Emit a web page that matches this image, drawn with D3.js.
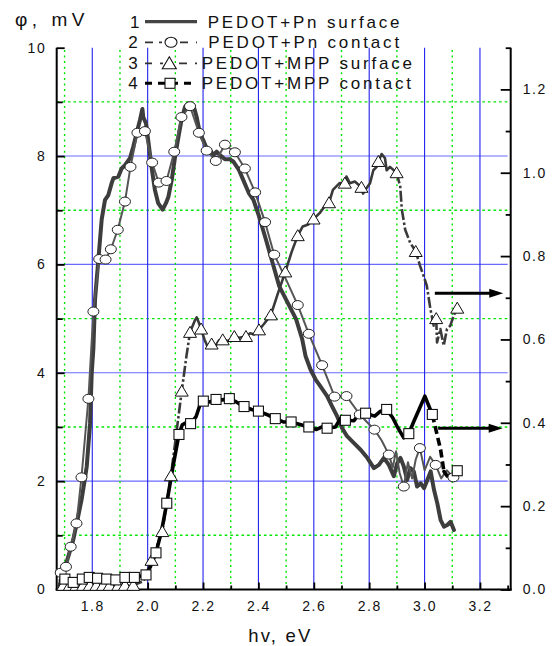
<!DOCTYPE html>
<html>
<head>
<meta charset="utf-8">
<script src="https://cdn.jsdelivr.net/npm/d3@7"></script>
<style>
  html, body { margin: 0; padding: 0; background: #fff; }
  svg { display: block; }
</style>
</head>
<body>
<svg id="chart" width="556" height="646"></svg>
<script>
// ---- data -------------------------------------------------------------
// photon energy (eV), potential (mV) for curve 1 (no markers)
const pnSurface = [
  [1.680,0.05],[1.695,0.30],[1.710,0.55],[1.731,0.91],[1.745,1.25],[1.761,1.65],[1.772,2.00],
  [1.780,2.27],[1.792,3.07],[1.798,4.00],[1.804,4.45],[1.810,5.36],[1.822,6.09],[1.834,6.83],
  [1.846,7.19],[1.858,7.28],[1.870,7.50],[1.876,7.59],[1.894,7.62],[1.906,7.77],[1.918,7.83],
  [1.936,7.96],[1.948,8.17],[1.960,8.42],[1.972,8.66],[1.981,8.87],[1.984,8.72],[1.994,8.60],
  [2.002,8.29],[2.014,7.80],[2.026,7.38],[2.038,7.13],[2.054,7.01],[2.066,7.13],[2.075,7.25],
  [2.087,7.56],[2.099,7.99],[2.111,8.35],[2.123,8.69],[2.135,8.91],[2.147,8.97],[2.165,8.94],
  [2.177,8.72],[2.189,8.42],[2.201,8.29],[2.213,8.14],[2.225,8.11],[2.237,8.02],[2.249,8.08],
  [2.261,8.02],[2.279,7.94],[2.297,7.94],[2.309,7.90],[2.330,7.74],[2.345,7.56],[2.366,7.31],
  [2.382,7.19],[2.402,6.89],[2.427,6.46],[2.451,6.03],[2.475,5.60],[2.505,5.30],[2.536,4.99],
  [2.558,4.62],[2.570,4.31],[2.588,4.06],[2.606,3.88],[2.624,3.75],[2.648,3.57],[2.666,3.38],
  [2.684,3.20],[2.702,2.98],[2.720,2.83],[2.745,2.70],[2.769,2.58],[2.793,2.43],[2.817,2.24],
  [2.835,2.30],[2.853,2.43],[2.871,2.30],[2.889,2.09],[2.901,2.33],[2.913,2.43],[2.925,2.27],
  [2.937,2.02],[2.949,2.24],[2.961,2.18],[2.973,1.90],[2.986,1.96],[2.998,1.87],[3.010,2.02],
  [3.022,2.18],[3.034,1.84],[3.046,1.59],[3.058,1.28],[3.070,1.16],[3.082,1.19],[3.094,1.25],
  [3.106,1.10]
];

// curve 2: circle markers and extra points of its trace (mV)
const pnContactMarks = [
  [1.686,0.31],[1.705,0.42],[1.722,0.79],[1.743,1.22],[1.761,2.07],[1.786,3.52],[1.804,5.13],
  [1.825,6.10],[1.848,6.09],[1.867,6.28],[1.892,6.64],[1.918,7.16],[1.938,7.80],[1.963,8.43],
  [1.990,8.46],[2.016,7.88],[2.040,7.51],[2.068,7.54],[2.096,8.08],[2.122,8.72],[2.153,8.92],
  [2.185,8.43],[2.213,8.10],[2.246,7.91],[2.279,8.21],[2.315,8.07],[2.351,7.77],[2.388,7.33],
  [2.424,6.78],[2.457,6.18],[2.542,5.25],[2.582,4.72],[2.630,4.14],[2.675,3.56],[2.718,3.57],
  [2.766,3.23],[2.819,2.95],[2.871,2.49],[2.925,1.90],[2.983,2.61],[3.040,2.30],[3.104,2.07]
];
const pnContactTrace = [
  [2.500,5.72],[2.790,3.10],[2.845,2.75],[2.885,2.25],[2.897,2.55],[2.910,2.15],[2.940,2.35],
  [2.955,2.05],[2.968,2.40],[3.000,2.20],[3.020,2.45],[3.060,2.05],[3.080,2.20]
];

// curve 3: triangle markers and extra trace points (right axis)
const mppSurfaceMarks = [
  [1.695,0.010],[1.719,0.010],[1.743,0.010],[1.767,0.010],[1.791,0.010],[1.815,0.010],
  [1.839,0.010],[1.863,0.010],[1.894,0.010],[1.918,0.010],[1.948,0.010],
  [2.014,0.070],[2.053,0.139],[2.084,0.273],[2.123,0.476],[2.153,0.617],[2.193,0.625],
  [2.231,0.589],[2.271,0.599],[2.313,0.607],[2.355,0.607],[2.402,0.623],[2.445,0.659],
  [2.497,0.762],[2.542,0.849],[2.599,0.889],[2.655,0.928],[2.712,0.975],[2.772,0.965],
  [2.833,1.027],[2.899,1.000],[2.968,0.811],[3.042,0.650],[3.118,0.675]
];
const mppSurfaceTrace = [
  [1.675,0.008],[1.985,0.020],[1.996,0.039],[2.140,0.560],[2.170,0.645],[2.177,0.653],
  [2.185,0.640],[2.205,0.600],[2.215,0.585],[2.245,0.585],[2.258,0.598],[2.290,0.596],
  [2.330,0.604],[2.370,0.615],[2.385,0.612],[2.420,0.637],[2.470,0.710],[2.520,0.810],
  [2.560,0.871],[2.580,0.876],[2.621,0.903],[2.640,0.920],[2.669,0.959],[2.693,0.975],
  [2.718,0.991],[2.730,0.975],[2.748,0.979],[2.778,0.950],[2.790,0.963],[2.803,0.975],
  [2.815,1.006],[2.827,1.014],[2.845,1.045],[2.857,1.035],[2.863,1.006],[2.875,1.014],
  [2.912,0.967],[2.918,0.911],[2.930,0.863],[2.948,0.832],[2.984,0.776],[2.996,0.753],
  [3.008,0.729],[3.021,0.673],[3.033,0.633],[3.045,0.593],[3.057,0.625],[3.069,0.585],
  [3.081,0.625],[3.093,0.633],[3.105,0.657]
];

// curve 4: square markers and extra trace points (right axis)
const mppContactMarks = [
  [1.701,0.025],[1.731,0.017],[1.764,0.025],[1.789,0.029],[1.819,0.027],[1.852,0.025],
  [1.885,0.023],[1.918,0.029],[1.952,0.029],[1.994,0.035],[2.030,0.088],[2.069,0.207],
  [2.113,0.372],[2.155,0.398],[2.201,0.452],[2.247,0.456],[2.295,0.458],[2.348,0.439],
  [2.400,0.428],[2.461,0.410],[2.518,0.402],[2.582,0.390],[2.648,0.387],[2.714,0.406],
  [2.787,0.423],[2.863,0.432],[2.943,0.374],[3.028,0.420],[3.118,0.285]
];
const mppContactTrace = [
  [1.685,0.022],[2.010,0.055],[2.050,0.140],[2.090,0.290],[2.125,0.395],[2.138,0.400],
  [2.175,0.415],[2.190,0.445],[2.225,0.450],[2.270,0.455],[2.320,0.450],[2.375,0.432],
  [2.430,0.420],[2.490,0.402],[2.550,0.396],[2.610,0.384],[2.630,0.390],[2.678,0.390],
  [2.696,0.410],[2.745,0.405],[2.762,0.420],[2.820,0.416],[2.841,0.428],[2.885,0.412],
  [2.901,0.391],[2.925,0.364],[2.961,0.403],[2.980,0.432],[3.001,0.464],[3.058,0.335],
  [3.070,0.283],[3.082,0.272],[3.100,0.276],[3.106,0.268]
];

// arrows pointing curves 3 and 4 to the right-hand scale: [x0, x1, level]
const axisArrows = [[3.037, 3.284, 0.711], [3.049, 3.282, 0.387]];

const legendNumbers = ["1", "2", "3", "4"];
const legendNames = ["PEDOT+Pn surface", "PEDOT+Pn contact", "PEDOT+MPP surface", "PEDOT+MPP contact"];

const xMajor = [1.8, 2.0, 2.2, 2.4, 2.6, 2.8, 3.0, 3.2];
const xMinor = [1.7, 1.9, 2.1, 2.3, 2.5, 2.7, 2.9, 3.1, 3.3];
const yLeftMajor = [0, 2, 4, 6, 8, 10];
const yLeftMinor = [1, 3, 5, 7, 9];
const yRightMajor = [0, 0.2, 0.4, 0.6, 0.8, 1.0, 1.2];
const yRightMinor = [0.1, 0.3, 0.5, 0.7, 0.9, 1.1, 1.3];

const xTitle = "hv, eV";
const yTitle = "φ, mV";

// ---- scales -----------------------------------------------------------
const svg = d3.select("#chart");
const FONT = "Arial, 'Liberation Sans', sans-serif";
const x = d3.scaleLinear().domain([1.6715, 3.311]).range([56.7, 510.7]);
const yL = d3.scaleLinear().domain([0, 10]).range([589.5, 47.7]);
const yR = d3.scaleLinear().domain([0, 1.3]).range([589.5, 47.7]);
const [X0, X1] = x.range();
const [Y0, Y1] = yL.range();

// ---- grid -------------------------------------------------------------
const grid = svg.append("g");
grid.selectAll(".gmy").data(yLeftMinor).join("line")
  .attr("x1", X0).attr("x2", x(3.3)).attr("y1", d => yL(d)).attr("y2", d => yL(d))
  .attr("stroke", "#00e600").attr("stroke-width", 1.4).attr("stroke-dasharray", "2.6,3");
grid.selectAll(".gMy").data([2, 4, 6, 8]).join("line")
  .attr("x1", X0).attr("x2", x(3.3)).attr("y1", d => yL(d)).attr("y2", d => yL(d))
  .attr("stroke", "#6a6aff").attr("stroke-width", 1.1);
grid.selectAll(".gmx").data(xMinor.filter(d => d < 3.25)).join("line")
  .attr("x1", d => x(d)).attr("x2", d => x(d)).attr("y1", Y0).attr("y2", Y1)
  .attr("stroke", "#00e600").attr("stroke-width", 1.4).attr("stroke-dasharray", "2,3.6");
grid.selectAll(".gMx").data(xMajor).join("line")
  .attr("x1", d => x(d)).attr("x2", d => x(d)).attr("y1", Y0).attr("y2", Y1)
  .attr("stroke", "#2222ee").attr("stroke-width", 1.1);

// ---- axes -------------------------------------------------------------
function styleAxis(g) {
  g.select(".domain").remove();
  g.attr("font-family", FONT).attr("font-size", 14);
  g.selectAll("line").attr("stroke", "#000").attr("stroke-width", 1.8);
  g.selectAll("text").attr("fill", "#111").style("letter-spacing", "1.5px");
}
svg.append("g").attr("transform", `translate(0,${Y0})`)
  .call(d3.axisBottom(x).tickValues(xMajor).tickSize(-7).tickPadding(11.5).tickFormat(d3.format(".1f")))
  .call(styleAxis);
svg.append("g").attr("transform", `translate(0,${Y0})`)
  .call(d3.axisBottom(x).tickValues(xMinor).tickSize(-4).tickFormat(""))
  .call(styleAxis);
svg.append("g").attr("transform", `translate(${X0},0)`)
  .call(d3.axisLeft(yL).tickValues(yLeftMajor).tickSize(-8).tickPadding(10.5).tickFormat(d3.format("d")))
  .call(styleAxis);
svg.append("g").attr("transform", `translate(${X0},0)`)
  .call(d3.axisLeft(yL).tickValues(yLeftMinor).tickSize(-6).tickFormat(""))
  .call(styleAxis);
svg.append("g").attr("transform", `translate(${X1},0)`)
  .call(d3.axisRight(yR).tickValues(yRightMajor).tickSize(-10).tickPadding(12).tickFormat(d3.format(".1f")))
  .call(styleAxis);
svg.append("g").attr("transform", `translate(${X1},0)`)
  .call(d3.axisRight(yR).tickValues(yRightMinor).tickSize(-5).tickFormat(""))
  .call(styleAxis);

const frame = svg.append("g").attr("stroke", "#000").attr("stroke-width", 2);
frame.append("line").attr("x1", X0).attr("x2", X0).attr("y1", Y0 + 1).attr("y2", Y1);
frame.append("line").attr("x1", X1).attr("x2", X1).attr("y1", Y0 + 1).attr("y2", Y1);
frame.append("line").attr("x1", X0 - 1).attr("x2", X1 + 1).attr("y1", Y0).attr("y2", Y0);

// axis titles
svg.append("text").attr("x", 15).attr("y", 26).attr("font-family", FONT).attr("font-size", 19)
  .style("letter-spacing", "4.5px").attr("fill", "#111").text(yTitle);
svg.append("text").attr("x", 248.3).attr("y", 641.5).attr("font-family", FONT).attr("font-size", 18.5)
  .style("letter-spacing", "2.2px").attr("fill", "#111").text(xTitle);

// ---- curves -----------------------------------------------------------
const byX = (a, b) => a[0] - b[0];
const lineL = d3.line().x(d => x(d[0])).y(d => yL(d[1]));
const lineR = d3.line().x(d => x(d[0])).y(d => yR(d[1]));

const plot = svg.append("g").attr("fill", "none").attr("stroke-linejoin", "round").attr("stroke-linecap", "round");

// 1: thick grey line
plot.append("path").attr("d", lineL(pnSurface)).attr("stroke", "#3d3d3d").attr("stroke-width", 4);

// 2: thin line with circles
plot.append("path").attr("d", lineL(pnContactMarks.concat(pnContactTrace).sort(byX)))
  .attr("stroke", "#555").attr("stroke-width", 2);
svg.append("g").selectAll("ellipse").data(pnContactMarks).join("ellipse")
  .attr("cx", d => x(d[0])).attr("cy", d => yL(d[1])).attr("rx", 5.5).attr("ry", 4.5)
  .attr("fill", "#fff").attr("stroke", "#222").attr("stroke-width", 1);

// 3: dash-dot on the rise and the drop, dense wiggly trace in between
const tri = "M0,-6L6.5,5L-6.5,5Z";
const surfaceAll = mppSurfaceMarks.concat(mppSurfaceTrace).sort(byX);
plot.append("path").attr("d", lineR(surfaceAll.filter(d => d[0] <= 2.153)))
  .attr("stroke", "#3a3a3a").attr("stroke-width", 2.6).attr("stroke-dasharray", "11,2.5,2.5,2.5")
  .attr("stroke-linecap", "butt");
plot.append("path").attr("d", lineR(surfaceAll.filter(d => d[0] >= 2.153 && d[0] <= 2.899)))
  .attr("stroke", "#3a3a3a").attr("stroke-width", 2.6);
plot.append("path").attr("d", lineR(surfaceAll.filter(d => d[0] >= 2.899)))
  .attr("stroke", "#3a3a3a").attr("stroke-width", 2.6).attr("stroke-dasharray", "11,2.5,2.5,2.5")
  .attr("stroke-linecap", "butt");
svg.append("g").selectAll("path").data(mppSurfaceMarks).join("path")
  .attr("transform", d => `translate(${x(d[0])},${yR(d[1])})`).attr("d", tri)
  .attr("fill", "#fff").attr("stroke", "#111").attr("stroke-width", 1);

// 4: heavy black line with squares, dashed on the steep drop
const contactAll = mppContactMarks.concat(mppContactTrace).sort(byX);
plot.append("path").attr("d", lineR(contactAll.filter(d => d[0] <= 3.028)))
  .attr("stroke", "#000").attr("stroke-width", 3.6);
plot.append("path").attr("d", lineR(contactAll.filter(d => d[0] >= 3.028 && d[0] <= 3.070)))
  .attr("stroke", "#000").attr("stroke-width", 3.6).attr("stroke-dasharray", "8,4").attr("stroke-linecap", "butt");
plot.append("path").attr("d", lineR(contactAll.filter(d => d[0] >= 3.070)))
  .attr("stroke", "#000").attr("stroke-width", 3.6);
svg.append("g").selectAll("rect").data(mppContactMarks).join("rect")
  .attr("x", d => x(d[0]) - 5).attr("y", d => yR(d[1]) - 5).attr("width", 10).attr("height", 10)
  .attr("fill", "#fff").attr("stroke", "#111").attr("stroke-width", 1.1);

// arrows to the right-hand scale
const arrows = svg.append("g");
axisArrows.forEach(([a, b, v]) => {
  const y = yR(v), xa = x(a), xb = x(b);
  arrows.append("line").attr("x1", xa).attr("x2", xb - 11).attr("y1", y).attr("y2", y)
    .attr("stroke", "#000").attr("stroke-width", 3);
  arrows.append("path").attr("d", `M${xb},${y}L${xb - 14},${y - 4.5}L${xb - 14},${y + 4.5}Z`).attr("fill", "#000");
});

// ---- legend -----------------------------------------------------------
const legend = svg.append("g").attr("font-family", FONT).attr("font-size", 17).attr("fill", "#111");
const rowY = [21.7, 42.3, 63.3, 83.3];
const textX = [207.7, 208.3, 201.7, 201.7];
legendNames.forEach((name, i) => {
  const cy = rowY[i];
  legend.append("text").attr("x", i === 0 ? 130 : 128.3).attr("y", cy + 6.1).text(legendNumbers[i]);
  legend.append("text").attr("x", textX[i]).attr("y", cy + 6.1).style("letter-spacing", "2.8px").text(name);
});
const lg = svg.append("g").attr("fill", "none");
// 1
lg.append("line").attr("x1", 145).attr("x2", 197).attr("y1", rowY[0]).attr("y2", rowY[0])
  .attr("stroke", "#444").attr("stroke-width", 3.2);
// 2
lg.append("line").attr("x1", 145).attr("x2", 197).attr("y1", rowY[1]).attr("y2", rowY[1])
  .attr("stroke", "#333").attr("stroke-width", 1.8).attr("stroke-dasharray", "8,6,3,0,0,18,8,8,2,20");
lg.append("ellipse").attr("cx", 171).attr("cy", rowY[1]).attr("rx", 6).attr("ry", 5)
  .attr("fill", "#fff").attr("stroke", "#111").attr("stroke-width", 1.1);
// 3
lg.append("line").attr("x1", 145).attr("x2", 197).attr("y1", rowY[2]).attr("y2", rowY[2])
  .attr("stroke", "#333").attr("stroke-width", 1.8).attr("stroke-dasharray", "7,8,3,0,0,16,8,8,2,20");
lg.append("path").attr("transform", `translate(169.3,${rowY[2]})`).attr("d", "M0,-6.5L7,5.5L-7,5.5Z")
  .attr("fill", "#fff").attr("stroke", "#111").attr("stroke-width", 1.1);
// 4
lg.append("line").attr("x1", 145).attr("x2", 197).attr("y1", rowY[3]).attr("y2", rowY[3])
  .attr("stroke", "#000").attr("stroke-width", 3).attr("stroke-dasharray", "7,6");
lg.append("rect").attr("x", 165).attr("y", rowY[3] - 5).attr("width", 10).attr("height", 10)
  .attr("fill", "#fff").attr("stroke", "#111").attr("stroke-width", 1.1);
</script>
</body>
</html>
